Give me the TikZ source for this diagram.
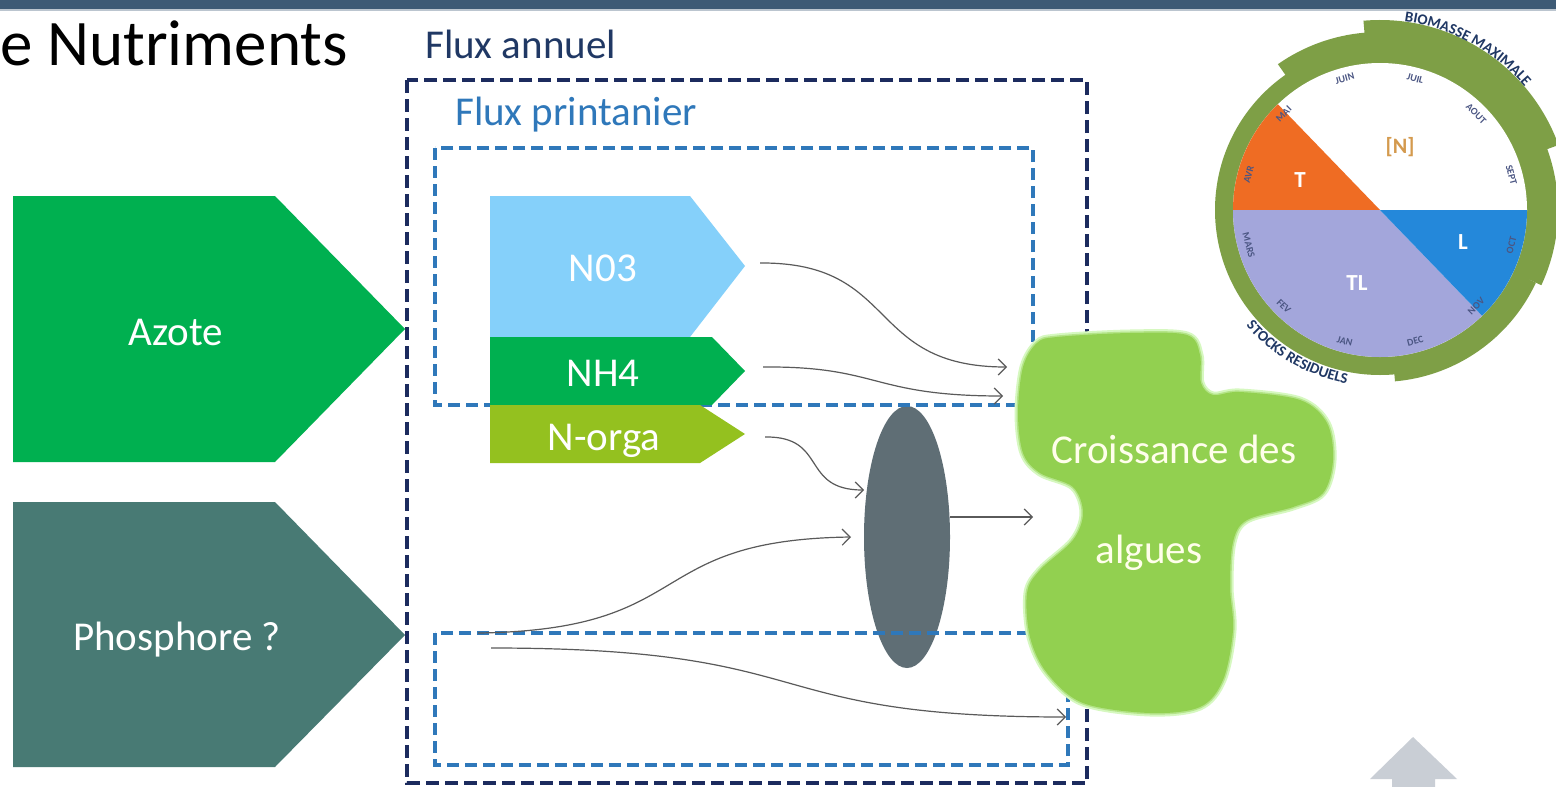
\documentclass[tikz,border=0pt]{standalone}
\usepackage{fontspec}
\setmainfont{Carlito}
\usetikzlibrary{arrows.meta,shapes.geometric,calc,decorations.text}
\definecolor{topbar}{HTML}{3D5A75}
\definecolor{navy}{HTML}{1C2B5E}
\definecolor{navytext}{HTML}{203864}
\definecolor{bluedash}{HTML}{2F78BA}
\definecolor{azote}{HTML}{00B050}
\definecolor{phos}{HTML}{487A74}
\definecolor{nthree}{HTML}{85D0FA}
\definecolor{norga}{HTML}{94C11F}
\definecolor{ellc}{HTML}{5F6E75}
\definecolor{blob}{HTML}{92D050}
\definecolor{glow}{HTML}{D6F8C0}
\definecolor{arr}{HTML}{5A5A5A}
\definecolor{ring}{HTML}{7E9F46}
\definecolor{orT}{HTML}{EF6C23}
\definecolor{lav}{HTML}{A3A6DB}
\definecolor{blL}{HTML}{2488DA}
\definecolor{month}{HTML}{4B5683}
\definecolor{ntxt}{HTML}{D49A4E}
\definecolor{uparrow}{HTML}{C9CED5}
\tikzset{
  lbl/.style={text=white, font=\fontsize{41}{41}\selectfont, inner sep=0pt, anchor=base},
  outerdash/.style={draw=navy, line width=4pt, dash pattern=on 13pt off 6pt},
  innerdash/.style={draw=bluedash, line width=3.5pt, dash pattern=on 12pt off 6pt},
  flow/.style={draw=arr, line width=1.2pt, -{Straight Barb[length=8pt,width=16pt]}},
  monthlbl/.style={text=month, font=\fontsize{10}{10}\selectfont\bfseries, inner sep=0pt},
  pielbl/.style={text=white, font=\fontsize{23}{23}\selectfont\bfseries, inner sep=0pt}
}
\begin{document}
\begin{tikzpicture}[x=1pt,y=1pt]
\useasboundingbox (0,0) rectangle (1556,-787);
\fill[white] (0,0) rectangle (1556,-787);

% ---- circle diagram (top right) ----
\begin{scope}
\clip (1190,0) rectangle (1556,-405);
\coordinate (C) at (1380,-210);
\fill[ring] (C) circle (165);
\fill[ring] ($(C)+(-25:160)$) -- ($(C)+(-25:178)$) arc[start angle=-25,end angle=125,radius=178] -- ($(C)+(125:160)$) arc[start angle=125,end angle=-25,radius=160] -- cycle;
\fill[ring] ($(C)+(20:160)$) -- ($(C)+(20:190)$) arc[start angle=20,end angle=95,radius=190] -- ($(C)+(95:160)$) arc[start angle=95,end angle=20,radius=160] -- cycle;
\fill[ring] ($(C)+(-85:160)$) -- ($(C)+(-85:172)$) arc[start angle=-85,end angle=-25,radius=172] -- ($(C)+(-25:160)$) arc[start angle=-25,end angle=-85,radius=160] -- cycle;
\fill[white] (C) circle (147);
\fill[orT] (C) -- ++(134:147) arc[start angle=134,end angle=180,radius=147] -- cycle;
\fill[lav] (C) -- ++(180:147) arc[start angle=180,end angle=314,radius=147] -- cycle;
\fill[blL] (C) -- ++(314:147) arc[start angle=314,end angle=360,radius=147] -- cycle;
\foreach \a/\r/\m in {-75/15/DEC,-105/-15/JAN,-135/-45/FEV,-165/-75/MARS,165/75/AVR,135/45/MAI,105/15/JUIN,75/-15/JUIL,45/-45/AOUT,15/-75/SEPT,-15/75/OCT,-45/45/NOV}
  \node[monthlbl, rotate=\r] at ($(C)+(\a:136)$) {\m};
\node[text=ntxt, font=\fontsize{22}{22}\selectfont\bfseries, inner sep=0pt] (nconc) at (1400,-147) {[N]};
\node[pielbl] (tl1) at (1300,-180) {T};
\node[pielbl] (tl2) at (1357,-283) {TL};
\node[pielbl] (tl3) at (1463,-242) {L};
\path[decorate, decoration={text along path, text align=center, text color=navytext,
  text={|\fontsize{15}{15}\selectfont\bfseries|BIOMASSE MAXIMALE}}]
  ($(C)+(98:190)$) arc[start angle=98,end angle=25,radius=190];
\path[decorate, decoration={text along path, text align=center, text color=navytext,
  text={|\fontsize{15}{15}\selectfont\bfseries|STOCKS RESIDUELS}}]
  ($(C)+(203:177)$) arc[start angle=203,end angle=277,radius=177];
\end{scope}

% ---- top bar ----
\fill[topbar] (0,0) rectangle (1556,-9);
\fill[topbar!35] (0,-9) rectangle (1556,-11);

% ---- titles ----
\node[anchor=base west, inner sep=0pt, font=\fontsize{65}{65}\selectfont] (title) at (0,-65) {e Nutriments};
\node[anchor=base west, inner sep=0pt, text=navytext, font=\fontsize{41}{41}\selectfont] (fa) at (425,-58) {Flux annuel};
\node[anchor=base west, inner sep=0pt, text=bluedash, font=\fontsize{41}{41}\selectfont] (fp) at (455,-125) {Flux printanier};

% ---- big pentagons ----
\fill[azote] (13,-196) -- (275,-196) -- (405,-329) coordinate (azotetip) -- (275,-462) -- (13,-462) -- cycle;
\node[lbl] (azote) at (176,-345) {Azote};
\fill[phos] (13,-502) -- (275,-502) -- (405,-635) coordinate (phostip) -- (275,-767) -- (13,-767) -- cycle;
\node[lbl] (phosphore) at (177,-650) {Phosphore ?};

% ---- ellipse ----
\node[ellipse, fill=ellc, minimum width=86pt, minimum height=262pt, inner sep=0pt] (ell) at (907,-537) {};

% ---- dashed frames ----
\draw[outerdash] (407,-80) rectangle (1087,-783);
\draw[innerdash] (435,-148) rectangle (1033,-405);
\draw[innerdash] (435,-633) rectangle (1068,-765);

% ---- small pentagons ----
\fill[nthree] (490,-196) -- (690,-196) -- (745,-266) coordinate (n03tip) -- (690,-337) -- (490,-337) -- cycle;
\node[lbl] (n03) at (603,-281) {N03};
\fill[azote] (490,-337) -- (712,-337) -- (745,-371) coordinate (nh4tip) -- (712,-405) -- (490,-405) -- cycle;
\node[lbl] (nh4) at (603,-386) {NH4};
\fill[norga] (490,-405) -- (700,-405) -- (745,-434) coordinate (norgatip) -- (700,-463) -- (490,-463) -- cycle;
\node[lbl] (norga) at (604,-450) {N-orga};

% ---- algae blob ----
\def\blobpath{plot[smooth cycle, tension=0.55] coordinates {(1057,-337) (1130,-333) (1187,-335) (1200,-355) (1201,-383) (1213,-395) (1240,-392) (1300,-400) (1327,-423) (1333,-460) (1323,-493) (1293,-507) (1247,-520) (1233,-542) (1230,-587) (1233,-630) (1223,-680) (1200,-707) (1150,-713) (1083,-703) (1047,-673) (1030,-637) (1027,-593) (1040,-570) (1073,-540) (1083,-513) (1073,-487) (1040,-473) (1023,-453) (1018,-413) (1023,-367) (1037,-343)}}
\draw[glow, line width=7pt, line join=round] \blobpath;
\draw[glow!50!blob, line width=3pt, line join=round] \blobpath;
\fill[blob] \blobpath;
\node[lbl, text=white!92!yellow] (croiss) at (1174,-463) {Croissance des};
\node[lbl, text=white!92!yellow] (algues) at (1149,-563) {algues};

% ---- connectors ----
\coordinate (s1) at (760,-263);
\coordinate (e1) at (1007,-367);
\coordinate (s2) at (763,-367);
\coordinate (e2) at (1003,-396);
\coordinate (s3) at (765,-437);
\coordinate (e3) at (864,-490);
\coordinate (s4) at (478,-633);
\coordinate (e4) at (851,-537);
\coordinate (s5) at (491,-648);
\coordinate (e5) at (1066,-717);
\coordinate (e6) at (1033,-517);
\draw[flow] (s1) .. controls (900,-262) and (865,-367) .. (e1);
\draw[flow] (s2) .. controls (880,-366) and (870,-396) .. (e2);
\draw[flow] (s3) .. controls (828,-436) and (800,-490) .. (e3);
\draw[flow] (s4) .. controls (700,-630) and (640,-540) .. (e4);
\draw[flow] (s5) .. controls (830,-648) and (750,-717) .. (e5);
\draw[flow] (ell.east |- e6) -- (e6);

% ---- gray up arrow ----
\fill[uparrow] (1413,-737) -- (1457,-779) -- (1435,-779) -- (1435,-787) -- (1392,-787) -- (1392,-779) -- (1370,-779) -- cycle;
\end{tikzpicture}
\end{document}
